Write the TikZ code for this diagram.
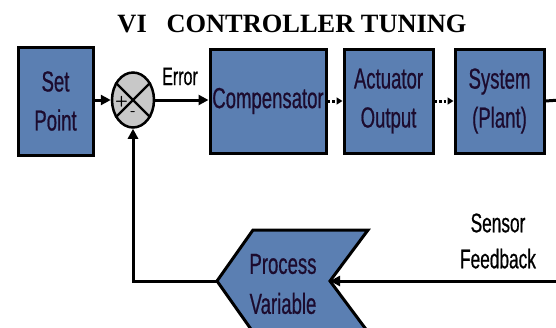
\documentclass[tikz,border=0pt]{standalone}
\usepackage{fontspec}
\setmainfont{Liberation Serif}
\newfontfamily\boxfont[FakeStretch=0.64,FakeBold=0.6]{Liberation Sans}
\usetikzlibrary{arrows.meta,shapes.geometric}
\definecolor{boxblue}{HTML}{5B7FB2}
\definecolor{sumgray}{HTML}{C8C8C8}
\definecolor{txt}{HTML}{1C0B2E}
\tikzset{
  blk/.style={draw=black, line width=3pt, fill=boxblue, text=txt, align=center,
    font=\boxfont\fontsize{29}{39}\selectfont, inner sep=0pt},
  conn/.style={line width=3pt, -{Triangle[length=10pt,width=10pt]}},
  dotconn/.style={line width=3pt, dash pattern=on 2.5pt off 2pt, -{Triangle[length=6pt,width=7pt]}},
  lbl/.style={text=black, align=center, font=\boxfont\fontsize{27}{36}\selectfont, inner sep=0pt},
}
\begin{document}
\begin{tikzpicture}[x=1pt,y=-1pt]
\useasboundingbox (0,0) rectangle (556,327);
\clip (0,0) rectangle (556,327);
% title
\node[font=\bfseries\fontsize{26.4}{30}\selectfont, anchor=base] (title) at (292,32) {VI\hspace{0.75em}CONTROLLER TUNING};
% blocks
\node[blk, minimum width=75pt, minimum height=108pt] (sp) at (55.5,101) {Set\\Point};
\node[blk, minimum width=116pt, minimum height=104pt] (comp) at (268,101) {Compensator};
\node[blk, minimum width=89pt, minimum height=104pt] (act) at (388.5,101) {Actuator\\Output};
\node[blk, minimum width=89pt, minimum height=104pt] (sys) at (499.5,101) {System\\(Plant)};
% summing junction
\node[draw=black, line width=2.5pt, fill=sumgray, ellipse, minimum width=42pt, minimum height=55pt, inner sep=0pt] (sum) at (133,100) {};
\draw[line width=2.2pt] (sum.45) -- (sum.225) (sum.135) -- (sum.315);
\node[font=\sffamily\bfseries\fontsize{15}{15}\selectfont, inner sep=0pt] (plus) at (121.5,102) {+};
\node[font=\sffamily\bfseries\fontsize{15}{15}\selectfont, inner sep=0pt] (minus) at (133,114) {-};
% label Error
\node[lbl, font=\boxfont\fontsize{25}{30}\selectfont, anchor=base] (err) at (180,85) {Error};
% connectors
\draw[conn] (sp.east |- sum.west) -- (sum.west);
\draw[conn] (sum.east) -- (comp.west |- sum.east);
\draw[dotconn] (comp.east) -- (act.west);
\draw[dotconn] (act.east) -- (sys.west);
\coordinate (outend) at (560,100);
\draw[line width=3pt] (sys.east) -- (outend);
% process variable chevron
\coordinate (pvtip) at (217,281);
\coordinate (pvnotch) at (330,281);
\draw[line width=3pt, fill=boxblue, line join=miter] (253,230) -- (368,230) -- (pvnotch) -- (368,332) -- (253,332) -- (pvtip) -- cycle;
\node[lbl, text=txt, font=\boxfont\fontsize{29}{40}\selectfont] (pv) at (283,284) {Process\\Variable};
% sensor feedback
\node[lbl] (sf) at (498,241) {Sensor\\Feedback};
\coordinate (fbstart) at (560,281);
\coordinate (corner) at (133,281);
\draw[conn] (fbstart) -- (pvnotch);
\draw[conn] (pvtip) -- (corner) -- (sum.south);
\end{tikzpicture}
\end{document}
